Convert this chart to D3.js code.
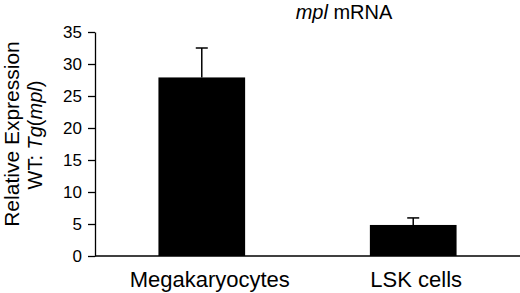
<!DOCTYPE html>
<html>
<head>
<meta charset="utf-8">
<script src="https://cdn.jsdelivr.net/npm/d3@7"></script>
<style>
  body { margin: 0; background: #fff; }
  text { font-family: "Liberation Sans", Arial, sans-serif; fill: #000; }
</style>
</head>
<body>
<div id="main"></div>
<script>
const categories = ["Megakaryocytes", "LSK cells"];
const means = [27.9, 4.85];
const errors = [4.6, 1.1];
const yTicks = [0, 5, 10, 15, 20, 25, 30, 35];

const W = 520, H = 293;
const m = {left: 95, top: 32, right: 0, bottom: 37};

const svg = d3.select("#main").append("svg")
  .attr("width", W).attr("height", H);

const g = svg.append("g").attr("transform", `translate(${m.left},${m.top})`);
const iw = W - m.left - m.right, ih = H - m.top - m.bottom;

const x = d3.scaleBand().domain(categories).range([0, 425]).paddingInner(0.59).paddingOuter(0.3);
const y = d3.scaleLinear().domain([0, 35]).range([ih, 0]);

const data = categories.map((c, i) => ({c, v: means[i], e: errors[i]}));

// bars
g.selectAll("rect.bar").data(data).join("rect")
  .attr("class", "bar")
  .attr("x", d => x(d.c))
  .attr("y", d => y(d.v))
  .attr("width", x.bandwidth())
  .attr("height", d => y(0) - y(d.v))
  .attr("fill", "#000");

// error bars (upper only)
const eb = g.selectAll("g.err").data(data).join("g").attr("class", "err");
eb.append("line")
  .attr("x1", d => x(d.c) + x.bandwidth() / 2)
  .attr("x2", d => x(d.c) + x.bandwidth() / 2)
  .attr("y1", d => y(d.v))
  .attr("y2", d => y(d.v + d.e))
  .attr("stroke", "#000").attr("stroke-width", 1.5);
eb.append("line")
  .attr("x1", d => x(d.c) + x.bandwidth() / 2 - 6)
  .attr("x2", d => x(d.c) + x.bandwidth() / 2 + 6)
  .attr("y1", d => y(d.v + d.e))
  .attr("y2", d => y(d.v + d.e))
  .attr("stroke", "#000").attr("stroke-width", 1.5);

// y axis
const yAxis = g.append("g")
  .call(d3.axisLeft(y).tickValues(yTicks).tickSize(7).tickPadding(6).tickSizeOuter(0));
yAxis.selectAll("text").style("font-size", "17px").attr("fill", "#000");
yAxis.selectAll("line, path").attr("stroke", "#000").attr("stroke-width", 1.3);

// x axis line
g.append("line")
  .attr("x1", 0).attr("x2", iw)
  .attr("y1", y(0)).attr("y2", y(0))
  .attr("stroke", "#000").attr("stroke-width", 1.3);

// x labels
g.selectAll("text.xl").data(data).join("text")
  .attr("class", "xl")
  .attr("x", d => x(d.c) + x.bandwidth() / 2 + (d.c === "Megakaryocytes" ? 8 : 3))
  .attr("y", ih + 31)
  .attr("text-anchor", "middle")
  .style("font-size", "22px")
  .text(d => d.c);

// title
const t = svg.append("text")
  .attr("x", 344).attr("y", 19)
  .attr("text-anchor", "middle")
  .style("font-size", "20px");
t.append("tspan").style("font-style", "italic").text("mpl");
t.append("tspan").text(" mRNA");

// y title
svg.append("text")
  .attr("transform", "translate(19,134) rotate(-90)")
  .attr("text-anchor", "middle")
  .style("font-size", "21px")
  .text("Relative Expression");
const yt2 = svg.append("text")
  .attr("transform", "translate(42,135) rotate(-90)")
  .attr("text-anchor", "middle")
  .style("font-size", "20px");
yt2.append("tspan").text("WT: ");
yt2.append("tspan").style("font-style", "italic").text("Tg");
yt2.append("tspan").text("(");
yt2.append("tspan").style("font-style", "italic").text("mpl");
yt2.append("tspan").text(")");
</script>
</body>
</html>
